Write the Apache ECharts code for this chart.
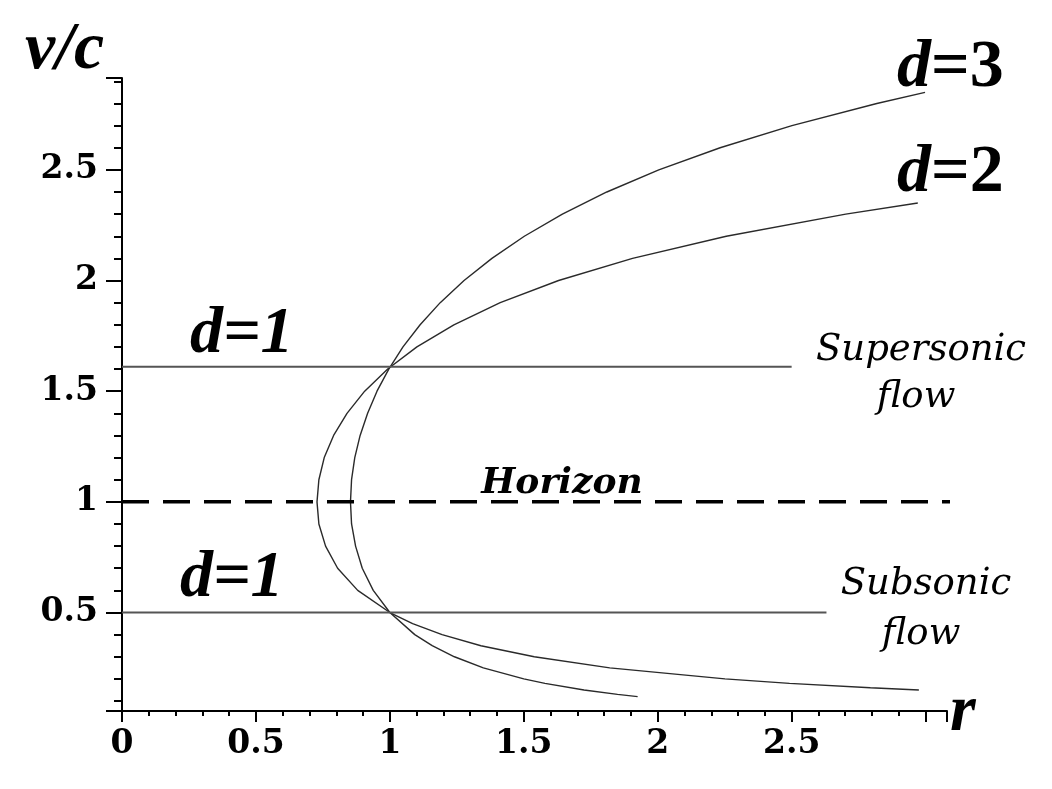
<!DOCTYPE html>
<html>
<head>
<meta charset="utf-8">
<script src="https://cdn.jsdelivr.net/npm/echarts@6/dist/echarts.min.js"></script>
<style>
html,body{margin:0;padding:0;background:#fff;}
#chart{width:1052px;height:789px;}
</style>
</head>
<body>
<div id="chart"></div>
<script>
// ---- data (r, v/c) ----
const d2Curve = [
  [2.975,0.15],[2.794,0.16],[2.492,0.18],[2.251,0.20],[1.821,0.25],[1.539,0.30],
  [1.340,0.35],[1.195,0.40],[1.085,0.45],[1.000,0.50],[0.880,0.60],[0.805,0.70],
  [0.760,0.80],[0.735,0.90],[0.728,1.00],[0.735,1.10],[0.755,1.20],[0.790,1.30],
  [0.840,1.40],[0.906,1.50],[0.992,1.60],[1.101,1.70],[1.239,1.80],[1.412,1.90],
  [1.630,2.00],[1.906,2.10],[2.256,2.20],[2.702,2.30],[2.971,2.35]
];
const d3Curve = [
  [1.925,0.12],[1.850,0.13],[1.725,0.15],[1.579,0.18],[1.500,0.20],[1.349,0.25],
  [1.241,0.30],[1.158,0.35],[1.093,0.40],[1.000,0.50],[0.938,0.60],[0.897,0.70],
  [0.872,0.80],[0.857,0.90],[0.853,1.00],[0.857,1.10],[0.869,1.20],[0.889,1.30],
  [0.917,1.40],[0.952,1.50],[0.996,1.60],[1.049,1.70],[1.113,1.80],[1.188,1.90],
  [1.277,2.00],[1.381,2.10],[1.502,2.20],[1.644,2.30],[1.810,2.40],[2.004,2.50],
  [2.233,2.60],[2.501,2.70],[2.818,2.80],[2.998,2.85]
];
const d1Supersonic = [[0,1.61],[2.5,1.61]];
const d1Subsonic = [[0,0.5],[2.63,0.5]];
const horizon = [[0,1],[3.12,1]];
const xRange = [0, 3.08];
const yRange = [0.055, 2.915];
const tickStep = 0.5;
const lastLabel = 2.5;

const chart = echarts.init(document.getElementById('chart'), null, {renderer:'canvas'});

function tickFmt(v){
  const k = Math.round(v / tickStep);
  if (Math.abs(v / tickStep - k) > 1e-6) return '';
  if (v > lastLabel + 1e-6) return '';
  return String(Math.round(v*10)/10);
}

const serif = '"Liberation Serif", "Times New Roman", serif';
const dvs = '"DejaVu Serif", serif';

const option = {
  animation: false,
  backgroundColor: '#ffffff',
  grid: {left: 122, right: 105, top: 78, bottom: 78, containLabel: false},
  xAxis: {
    type: 'value', min: xRange[0], max: xRange[1],
    minInterval: tickStep, maxInterval: tickStep,
    axisLine: {show: true, onZero: false, lineStyle: {color: '#000', width: 2}},
    axisTick: {show: true, length: 11, lineStyle: {color: '#000', width: 2}},
    minorTick: {show: true, splitNumber: 5, length: 5, lineStyle: {color: '#000', width: 2}},
    splitLine: {show: false},
    axisLabel: {formatter: tickFmt, margin: 17, color: '#000',
      fontFamily: dvs, fontWeight: 'bold', fontSize: 33, showMaxLabel: false}
  },
  yAxis: {
    type: 'value', min: yRange[0], max: yRange[1],
    minInterval: tickStep, maxInterval: tickStep,
    axisLine: {show: true, onZero: false, lineStyle: {color: '#000', width: 2}},
    axisTick: {show: true, length: 16, lineStyle: {color: '#000', width: 2}},
    minorTick: {show: true, splitNumber: 5, length: 8, lineStyle: {color: '#000', width: 2}},
    splitLine: {show: false},
    axisLabel: {formatter: tickFmt, margin: 24, color: '#000',
      fontFamily: dvs, fontWeight: 'bold', fontSize: 33, showMinLabel: false, showMaxLabel: false}
  },
  series: [
    {name: 'd=2', type: 'line', data: d2Curve, showSymbol: false, smooth: false, clip: false,
      lineStyle: {color: '#2a2a2a', width: 1.4}},
    {name: 'd=3', type: 'line', data: d3Curve, showSymbol: false, smooth: false, clip: false,
      lineStyle: {color: '#2a2a2a', width: 1.4}},
    {name: 'd=1 supersonic', type: 'line', data: d1Supersonic, showSymbol: false, clip: false,
      lineStyle: {color: '#555', width: 2}},
    {name: 'd=1 subsonic', type: 'line', data: d1Subsonic, showSymbol: false, clip: false,
      lineStyle: {color: '#555', width: 2}},
    {name: 'Horizon', type: 'line', data: horizon, showSymbol: false, clip: false,
      lineStyle: {color: '#000', width: 3.5, type: [27, 14]}}
  ],
  graphic: [
    {type: 'text', left: 25, top: 16, style: {text: 'v/c', font: 'italic bold 68px ' + serif, fill: '#000'}},
    {type: 'text', left: 950, top: 680, style: {text: 'r', font: 'italic bold 66px ' + serif, fill: '#000'}},
    {type: 'text', left: 897, top: 34, style: {text: '{a|d}{b|=3}', rich: {
      a: {font: 'italic bold 68px ' + serif, fill: '#000'},
      b: {font: 'bold 68px ' + serif, fill: '#000'}}}},
    {type: 'text', left: 897, top: 139, style: {text: '{a|d}{b|=2}', rich: {
      a: {font: 'italic bold 68px ' + serif, fill: '#000'},
      b: {font: 'bold 68px ' + serif, fill: '#000'}}}},
    {type: 'text', left: 190, top: 302, style: {text: 'd=1', font: 'italic bold 66px ' + serif, fill: '#000'}},
    {type: 'text', left: 180, top: 546, style: {text: 'd=1', font: 'italic bold 66px ' + serif, fill: '#000'}},
    {type: 'text', x: 921, y: 350, style: {text: 'Supersonic', font: 'italic 37px ' + dvs, fill: '#000', align: 'center', verticalAlign: 'middle'}},
    {type: 'text', x: 916, y: 397, style: {text: 'flow', font: 'italic 37px ' + dvs, fill: '#000', align: 'center', verticalAlign: 'middle'}},
    {type: 'text', x: 562, y: 484, style: {text: 'Horizon', font: 'italic bold 36px ' + dvs, fill: '#000', align: 'center', verticalAlign: 'middle'}},
    {type: 'text', x: 926, y: 584, style: {text: 'Subsonic', font: 'italic 37px ' + dvs, fill: '#000', align: 'center', verticalAlign: 'middle'}},
    {type: 'text', x: 921, y: 634, style: {text: 'flow', font: 'italic 37px ' + dvs, fill: '#000', align: 'center', verticalAlign: 'middle'}}
  ]
};
chart.setOption(option);
</script>
</body>
</html>
